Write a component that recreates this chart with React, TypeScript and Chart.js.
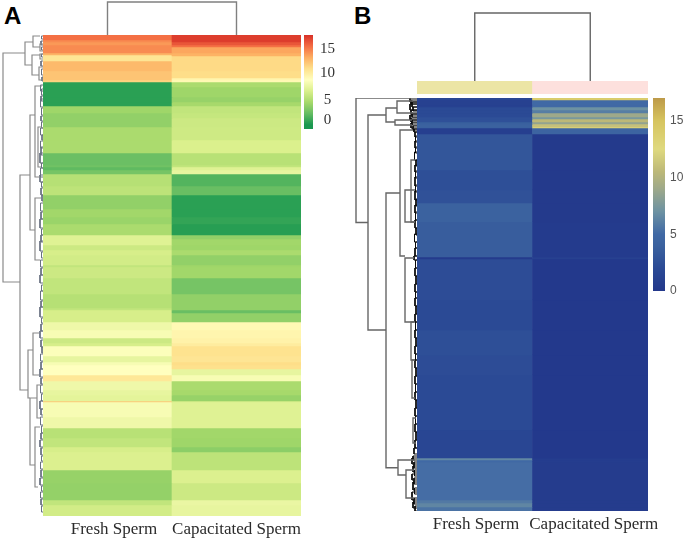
import React, { useEffect, useRef } from "react";
import { Chart, registerables } from "chart.js";

Chart.register(...registerables);

// ---------- data ----------
const conditions = ["Fresh Sperm", "Capacitated Sperm"];

const rowSpansA = [5,2,3,2,6,2,1,5,10,7,2,2,5,10,5,4,7,5,9,13,13,12,2,3,4,12,9,14,8,7,11,4,6,5,5,10,2,11,16,14,2,3,9,8,8,5,3,10,6,3,4,6,6,9,5,6,1,15,11,10,9,5,18,13,17,5,11];
const freshA = [15.5,14.5,14,14.5,14.5,13,10.5,10.5,12.7,12.2,12.2,11.5,-0.5,-0.5,-0.5,-0.5,3.5,3,3,4,4,1.6,1.8,1.2,2,4.5,4.8,3,3.6,3.3,4,6.5,6.5,5.5,6,5.8,5,5.5,5,4.5,5,6,6,7.5,8,5.5,6,8.3,7,8,8.5,8.5,10.3,7.5,7,6.8,12,8,7.5,4.6,5,6,6.3,3.2,3.1,5,5.8];
const capacitatedA = [17.5,17.5,16.5,15.5,13.5,13,13,11.2,11.2,11,9.3,9,4,3.5,3.2,3.8,5,5.2,5.5,5.6,6.2,4.6,5,6.5,7,0.8,1.5,-0.5,-0.5,-0.2,-0.6,3,3.6,3.5,4,3,3.5,3.6,2,3,3,1.5,3,9,9.3,9.5,10,10.7,10.5,11,10.8,7,8,4,3.8,3.2,6,6.5,6.5,3.6,3.5,2.8,4.8,6.3,5.5,7.2,7];

const rowSpansB = [2,5,2,3,3,4,2,3,2,3,1,6,36,20,13,19,35,2,41,30,25,20,55,28,2,2,38,3,4,4];
const freshB = [1.5,1,1,2,2,2,2.5,2.5,3.8,4,4,0.8,3,2.4,2.6,4,3.6,0.3,2.2,2,2.4,2.2,2,1.5,6.5,5,5.2,5.8,6.4,5.5];
const capacitatedB = [14,5,5,7,6,9,7.5,10.5,8.5,11,13,4.3,0.2,0.2,0.2,0.2,0.3,1,0.1,0.1,0.1,0.1,0.1,0.1,0.5,0.5,0.4,0.4,0.4,0.4];

const scaleStopsA: [number, string][] = [[-1,"#1a9850"],[1.4,"#66bd63"],[3.75,"#a6d96a"],[6.1,"#d9ef8b"],[8.5,"#ffffbf"],[10.9,"#fee08b"],[13.25,"#fdae61"],[15.6,"#f46d43"],[18,"#d73027"]];
const scaleStopsB: [number, string][] = [[0,"#23388b"],[2,"#2b4a95"],[4,"#3b629f"],[5,"#4069a5"],[7,"#6d92a2"],[9,"#9ea98a"],[10.5,"#bcb878"],[12.5,"#dfd97f"],[15,"#d6c45f"],[17,"#bd9a49"]];

const scaleLabels = ["0", "5", "10", "15"];
const scaleTicksA = [-0.05, 4.2, 9.9, 15];
const scaleTicksB = [0, 5, 10, 15];

// column-label anchors, in column index units
const labelAnchorsA = [0.05, 0];
const labelAnchorsB = [0.01, 0.03];

const annotationColors = ["#ece5a5", "#fde0dd"];

// column dendrogram: [height, left leaf, right leaf]
const columnTreeA = [[33, 0.5, 1.5]];
const columnTreeB = [[68, 0.5, 1.5]];

// row dendrogram merges: [height, rowA, heightA, rowB, heightB]
const rowTreeA = [
  [40,18,18,247,23],[18,7,10,30,11],[10,1,3,12,3],[3,9,0,16,0],[11,20,3,40,4],[3,19,0,24,0],[4,32,0,45,0],
  [23,140,13,355,15],[13,80,8,195,8],[8,51,1,142,3],[5,92,1,132,2],[8,163,2,225,3],[15,315,10,363,13],
  [10,298,4,340,4],[13,363,6,430,8],[6,350,1,383,2],[8,392,3,452,5],
];
const rowTreeB = [
  [61,0,6,124.5,49],[49,17,31,232,31],[31,10,20,24,22],[20,3,4,15,4],[22,22,5,27,5],[31,95,17,369.7,19],
  [17,32,4,158,12],[12,92,2,124,2],[12,160,3,224,3],[6,62,2,124,2],[6,224,2,262,2],[5,262,2,300,2],[4,320,1,345,1],
  [19,362,2,377,11],[11,372,3,400,3],
];

// small leaf clusters at the heatmap edge: [height, rowA, rowB]
const rowFringeA = [
  [1.5,1,4],[2,6,10],[1.5,12,15],[1.5,19,22],[2,26,31],[1.5,34,40],[1,42,46],[2.5,50,56],[1.5,54,60],[2,61,66],[2.5,64,72],[1.5,73,80],[2,81,86],[1.5,87,93],[2.5,93,100],[1,100,105],
  [2.5,106,113],[2,112,120],[3,118,128],[1.5,128,133],[2.5,133,142],[3,140,147],[1.5,147,152],[2,153,160],[1,160,166],[2.5,168,176],[2,177,184],[3,184,193],[1.5,194,200],[2,200,207],[3,206,216],[1.5,217,223],
  [2.5,225,232],[2,233,240],[3,240,248],[1.5,250,256],[2.5,256,265],[2,266,272],[3,272,282],[1.5,283,288],[2,289,296],[3,296,303],[2,305,312],[1,312,318],[2.5,319,326],[2,327,334],[3,334,342],[2,343,349],[2.5,350,358],[1.5,359,366],
  [3,366,374],[2,374,380],[2.5,382,390],[1.5,391,398],[2,398,404],[3,405,412],[2,413,420],[1.5,421,426],[2.5,427,434],[2,435,442],[3,443,450],[1.5,451,456],[2.5,457,463],[2,464,470],[1.5,471,477],
];
const rowFringeB = [
  [7,0,4],[6,2,6],[5,4,9],[7,6,12],[4,9,13],[6,12,16],[5,15,19],[7,17,22],[6,20,24],[5,22,27],[6,25,30],[4,28,32],[3,31,34],[2,34,39],[1.5,38,44],[2,43,50],[1.5,49,55],[2.5,54,62],[1,62,68],[2,67,74],[1.5,73,80],[2,79,88],[1.5,87,94],[2,93,102],[1,101,108],[2,107,115],[1.5,114,122],[2,122,130],[1,130,137],[2.5,136,144],[1.5,144,150],[2,150,158],[3,158,162],
  [1.5,162,170],[2,170,178],[1,178,186],[2,186,194],[1.5,194,200],[2,200,208],[1,208,216],[2,216,224],[1.5,224,232],[2,232,240],[1,240,248],[2,248,256],[1.5,256,262],[2,262,270],[1,270,278],[2,278,286],[1.5,286,294],[2,294,302],[1,302,310],[2,310,318],[1.5,318,326],[2,326,334],[1,334,342],[2,342,350],[3,350,356],
  [4,358,362],[5,360,366],[3,364,370],[4,368,374],[2.5,372,378],[5,376,382],[3,380,386],[4,384,392],[2.5,390,396],[5,394,402],[3,400,406],[4,404,410],[2,408,413],
];

// ---------- helpers ----------
const hexToRgb = (h: string) => [1, 3, 5].map((i) => parseInt(h.slice(i, i + 2), 16));
function colorOf(stops: [number, string][], v: number) {
  if (v <= stops[0][0]) return stops[0][1];
  for (let i = 1; i < stops.length; i++) {
    if (v <= stops[i][0]) {
      const t = (v - stops[i - 1][0]) / (stops[i][0] - stops[i - 1][0]);
      const a = hexToRgb(stops[i - 1][1]);
      const b = hexToRgb(stops[i][1]);
      return `rgb(${a.map((c, k) => Math.round(c + (b[k] - c) * t)).join(",")})`;
    }
  }
  return stops[stops.length - 1][1];
}
const hidden = { display: false };

type Box = { x: number; y: number; w: number; h: number; l?: number; t?: number; r?: number; b?: number };

function Panel({ box, build }: { box: Box; build: () => any }) {
  const ref = useRef<HTMLCanvasElement>(null);
  const { x, y, w, h, l = 0, t = 0, r = 0, b = 0 } = box;
  useEffect(() => {
    const cfg = build();
    cfg.options = {
      responsive: false,
      animation: false,
      events: [],
      ...cfg.options,
      plugins: { legend: hidden, tooltip: { enabled: false }, ...(cfg.options?.plugins || {}) },
    };
    const chart = new Chart(ref.current as HTMLCanvasElement, cfg);
    return () => chart.destroy();
  }, []);
  return (
    <canvas
      ref={ref}
      width={w + l + r}
      height={h + t + b}
      style={{ position: "absolute", left: x - l, top: y - t, width: w + l + r, height: h + t + b }}
    />
  );
}

function heatmapConfig(spans: number[], fresh: number[], cap: number[], stops: [number, string][], anchors: number[], labelColor: string, pad: number, columnWidth: number) {
  let start = 0;
  const datasets = spans.map((s, i) => {
    const range = [start, start + s];
    start += s;
    return {
      data: [range, range],
      backgroundColor: [colorOf(stops, fresh[i]), colorOf(stops, cap[i])],
      borderWidth: 0,
      grouped: false,
      barThickness: columnWidth,
    };
  });
  return {
    type: "bar",
    data: { labels: conditions, datasets },
    options: {
      layout: { padding: { left: pad, right: pad, top: 0, bottom: 0 } },
      scales: {
        y: { display: false, reverse: true, min: 0, max: start },
        x: {
          grid: { display: false, drawTicks: false },
          border: { display: false },
          afterBuildTicks: (s: any) => { s.ticks = anchors.map((a, i) => ({ value: i + a })); },
          afterFit: (s: any) => { s.height = 23; },
          ticks: {
            autoSkip: false,
            maxRotation: 0,
            minRotation: 0,
            padding: 3,
            color: labelColor,
            font: { family: "'Liberation Serif'", size: 17 },
            callback: (_: any, i: number) => conditions[i],
          },
        },
      },
    },
  };
}

function scaleBarConfig(stops: [number, string][], min: number, max: number, tickVals: number[], font: any, color: string, pad: number, cross: string, padV: number) {
  return {
    type: "bar",
    data: {
      labels: ["scale"],
      datasets: [{
        data: [[min, max]],
        borderWidth: 0,
        barPercentage: 1,
        categoryPercentage: 1,
        backgroundColor: (c: any) => {
          const { chart } = c;
          if (!chart.chartArea) return stops[0][1];
          const g = chart.ctx.createLinearGradient(0, chart.scales.y.getPixelForValue(min), 0, chart.scales.y.getPixelForValue(max));
          stops.forEach(([v, col]) => g.addColorStop(Math.min(1, Math.max(0, (v - min) / (max - min))), col));
          return g;
        },
      }],
    },
    options: {
      layout: { padding: { top: padV, bottom: padV } },
      scales: {
        x: { display: false },
        y: {
          position: "right",
          min,
          max,
          grid: { display: false, drawTicks: false },
          border: { display: false },
          afterBuildTicks: (s: any) => { s.ticks = tickVals.map((value) => ({ value })); },
          afterFit: (s: any) => { s.width = 24; },
          ticks: { padding: pad, color, font, crossAlign: cross, callback: (_: any, i: number) => scaleLabels[i] },
        },
      },
    },
  };
}

function columnTreeConfig(tree: number[][], top: number, color: string) {
  return {
    type: "scatter",
    data: {
      datasets: tree.map(([h, a, b]) => ({
        data: [{ x: a, y: 0 }, { x: a, y: h }, { x: b, y: h }, { x: b, y: 0 }],
        showLine: true, pointRadius: 0, borderColor: color, borderWidth: 1.4, clip: false,
      })),
    },
    options: {
      scales: { x: { display: false, min: 0, max: 2 }, y: { display: false, min: 0, max: top } },
    },
  };
}

function rowTreeConfig(tree: number[][], fringe: number[][], spans: number[], top: number, color: string, fringeColor: string, lineWidth: number) {
  const total = spans.reduce((a, b) => a + b, 0);
  const merges = tree.map(([h, a, ha, b, hb]) => ({
    data: [{ x: ha, y: a }, { x: h, y: a }, { x: h, y: b }, { x: hb, y: b }],
    showLine: true, pointRadius: 0, borderColor: color, borderWidth: lineWidth, clip: false,
  }));
  const leaves = fringe.map(([h, a, b]) => ({
    data: [{ x: 0, y: a }, { x: h, y: a }, { x: h, y: b }, { x: 0, y: b }],
    showLine: true, pointRadius: 0, borderColor: fringeColor, borderWidth: 1, clip: false,
  }));
  return {
    type: "scatter",
    data: { datasets: [...merges, ...leaves] },
    options: {
      scales: {
        x: { display: false, reverse: true, min: 0, max: top },
        y: { display: false, reverse: true, min: 0, max: total },
      },
    },
  };
}

function annotationConfig() {
  return {
    type: "bar",
    data: {
      labels: conditions,
      datasets: [{ data: [1, 1], backgroundColor: annotationColors, borderWidth: 0, barPercentage: 1, categoryPercentage: 1 }],
    },
    options: { scales: { x: { display: false }, y: { display: false, min: 0, max: 1 } } },
  };
}

const letter = (text: string, left: number, top: number, size: number) => (
  <div style={{ position: "absolute", left, top, fontFamily: "'Liberation Sans'", fontWeight: 700, fontSize: size, lineHeight: `${size}px`, color: "#000" }}>{text}</div>
);

export default function App() {
  return (
    <div style={{ position: "absolute", left: 0, top: 0, width: 685, height: 539, overflow: "hidden", background: "#fff", filter: "blur(0.45px)" }}>
      {letter("A", 4, 4, 24)}
      {letter("B", 354, 4, 24)}

      <Panel box={{ x: 43, y: 0, w: 258, h: 35 }} build={() => columnTreeConfig(columnTreeA, 35, "#808080")} />
      <Panel box={{ x: 0, y: 35, w: 43, h: 481 }} build={() => rowTreeConfig(rowTreeA, rowFringeA, rowSpansA, 43, "#8a8a8a", "#687180", 1.2)} />
      <Panel box={{ x: 43, y: 35, w: 258, h: 504, l: 30, r: 30 }} build={() => heatmapConfig(rowSpansA, freshA, capacitatedA, scaleStopsA, labelAnchorsA, "#2b2b2b", 30, 129)} />
      <Panel box={{ x: 304, y: 15, w: 33, h: 134 }} build={() => scaleBarConfig(scaleStopsA, -1.9, 18, scaleTicksA, { family: "'Liberation Serif'", size: 15 }, "#333", 7, "center", 20)} />

      <Panel box={{ x: 417, y: 0, w: 231, h: 81 }} build={() => columnTreeConfig(columnTreeB, 81, "#666")} />
      <Panel box={{ x: 417, y: 81, w: 231, h: 13 }} build={annotationConfig} />
      <Panel box={{ x: 350, y: 98, w: 67, h: 413 }} build={() => rowTreeConfig(rowTreeB, rowFringeB, rowSpansB, 67, "#666", "#0a0a0a", 1.4)} />
      <Panel box={{ x: 417, y: 98, w: 231, h: 436, l: 30, r: 30 }} build={() => heatmapConfig(rowSpansB, freshB, capacitatedB, scaleStopsB, labelAnchorsB, "#2b2b2b", 30, 115.5)} />
      <Panel box={{ x: 653, y: 78, w: 36, h: 233 }} build={() => scaleBarConfig(scaleStopsB, 0, 17, scaleTicksB, { family: "'Liberation Sans'", size: 12 }, "#555", 5, "near", 20)} />
    </div>
  );
}
